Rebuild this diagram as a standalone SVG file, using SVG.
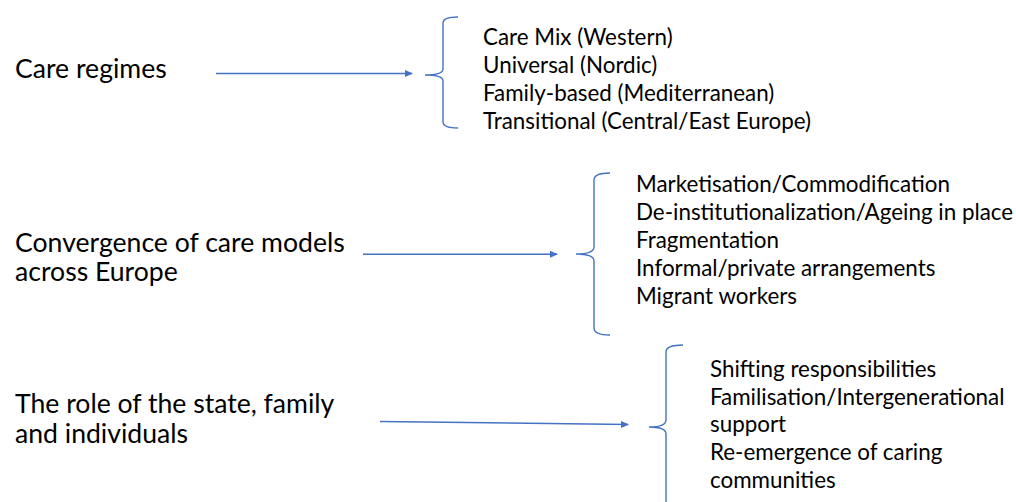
<svg xmlns="http://www.w3.org/2000/svg" width="1016" height="502" viewBox="0 0 1016 502">
<defs>
<style>
.big{font-family:Lato,"Liberation Sans",sans-serif;font-size:26.6px;fill:#000}
.sm{font-family:Lato,"Liberation Sans",sans-serif;font-size:22.4px;fill:#000}
.br{fill:none;stroke:#4472C4;stroke-width:1.4}
.ar{fill:none;stroke:#4472C4;stroke-width:1.4}
</style>
<marker id="ah" markerWidth="8" markerHeight="8" refX="7" refY="3.5" orient="auto" markerUnits="userSpaceOnUse" viewBox="0 0 8 7">
<path d="M0,0 L8,3.5 L0,7 Z" fill="#4472C4"/>
</marker>
</defs>
<rect width="1016" height="502" fill="#fff"/>
<g id="node-care-regimes">
<text class="big" x="15" y="78">Care regimes</text>
</g>
<g id="node-regimes-list">
<path class="br" d="M458,17 Q443,17 443,23 L443,69 Q443,75 425,75 Q443,75 443,81 L443,122 Q443,128 458,128"/>
<text class="sm" x="483" y="45">Care Mix (Western)</text>
<text class="sm" x="483" y="73">Universal (Nordic)</text>
<text class="sm" x="483" y="101">Family-based (Mediterranean)</text>
<text class="sm" x="483" y="128.5">Transitional (Central/East Europe)</text>
</g>
<g id="node-convergence">
<text class="big" x="15" y="252">Convergence of care models</text>
<text class="big" x="15" y="281">across Europe</text>
</g>
<g id="node-convergence-list">
<path class="br" d="M610,173 Q594,173 594,180 L594,247 Q594,254 576,254 Q594,254 594,261 L594,328 Q594,335 610,335"/>
<text class="sm" x="636" y="192">Marketisation/Commodification</text>
<text class="sm" x="636" y="220">De-institutionalization/Ageing in place</text>
<text class="sm" x="636" y="247.5">Fragmentation</text>
<text class="sm" x="636" y="275.5">Informal/private arrangements</text>
<text class="sm" x="636" y="303.5">Migrant workers</text>
</g>
<g id="node-role">
<text class="big" x="15" y="413">The role of the state, family</text>
<text class="big" x="15" y="443">and individuals</text>
</g>
<g id="node-role-list">
<path class="br" d="M683,345 Q666,345 666,352 L666,420 Q666,427 649,427 Q666,427 666,434 L666,505"/>
<text class="sm" x="710" y="377">Shifting responsibilities</text>
<text class="sm" x="710" y="405">Familisation/Intergenerational</text>
<text class="sm" x="710" y="432">support</text>
<text class="sm" x="710" y="460">Re-emergence of caring</text>
<text class="sm" x="710" y="487.5">communities</text>
</g>
<g id="connectors">
<line class="ar" x1="216" y1="73.5" x2="412" y2="73.5" marker-end="url(#ah)"/>
<line class="ar" x1="363" y1="254.3" x2="557" y2="254.3" marker-end="url(#ah)"/>
<line class="ar" x1="380" y1="421.5" x2="628" y2="424.5" marker-end="url(#ah)"/>
</g>
</svg>
